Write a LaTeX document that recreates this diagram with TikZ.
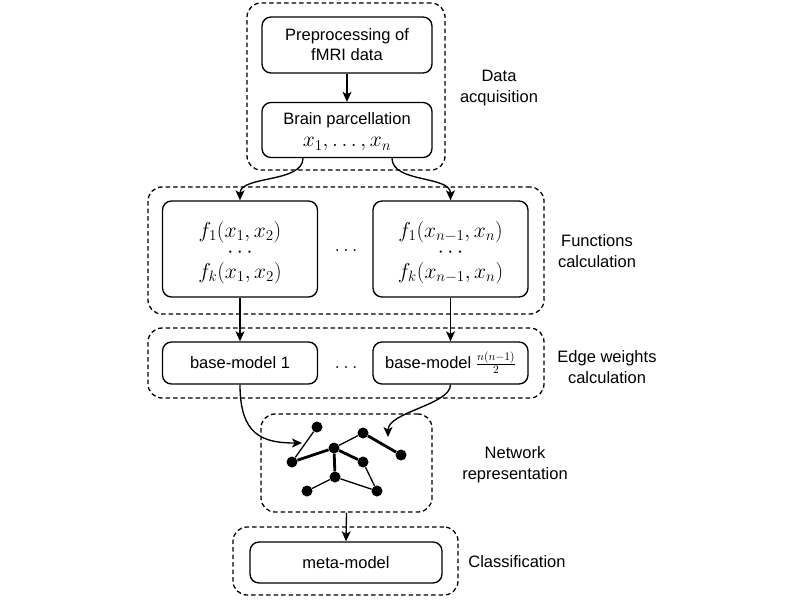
\RequirePackage{fix-cm}
\documentclass[tikz,border=0pt]{standalone}
\usepackage{fontspec}
\setmainfont{Liberation Sans}
\usetikzlibrary{arrows.meta}
\begin{document}
\begin{tikzpicture}[x=1pt,y=-1pt,
  txt/.style={font=\fontsize{16.5}{21}\selectfont},
  box/.style={draw, rounded corners=9pt, line width=1.35pt, inner sep=0pt, align=center, txt},
  grp/.style={draw, dash pattern=on 4.5pt off 3pt, rounded corners=14pt, line width=1.3pt, inner sep=0pt},
  lab/.style={align=center, txt},
  mathbig/.style={font=\fontsize{21.5}{20.5}\selectfont},
  arr/.style={line width=1.35pt, -{Stealth[length=10pt,width=9pt,inset=2.5pt]}},
  gdot/.style={circle, fill, inner sep=0pt, minimum size=11pt},
  gthin/.style={line width=1.3pt},
  gthick/.style={line width=2.8pt},
]
\useasboundingbox (0,0) rectangle (800,600);

% Data acquisition
\node[grp, minimum width=198pt, minimum height=167pt] (gda) at (346,86.5) {};
\node[box, minimum width=170pt, minimum height=56pt, font=\fontsize{16.5}{20}\selectfont] (pre) at (347,45) {Preprocessing of\\fMRI data};
\node[box, minimum width=170pt, minimum height=55pt, font=\fontsize{16.5}{22}\selectfont] (brain) at (347,130) {\rule{0pt}{16pt}Brain parcellation\\{\fontsize{21.5}{22}\selectfont $x_1,\dots,x_n$}};
\node[lab] (lda) at (499,88) {Data\\acquisition};

% Functions calculation
\node[grp, minimum width=396pt, minimum height=127pt] (gfn) at (346,250.5) {};
\node[box, minimum width=155pt, minimum height=96pt, mathbig] (fl) at (240,249) {\rule{0pt}{23pt}$f_1(x_1,x_2)$\\$\cdots$\\$f_k(x_1,x_2)$};
\node[box, minimum width=155pt, minimum height=96pt, mathbig] (fr) at (450.5,249) {\rule{0pt}{23pt}$f_1(x_{n-1},x_n)$\\$\cdots$\\$f_k(x_{n-1},x_n)$};
\node[font=\fontsize{20}{20}\selectfont] (d1) at (346,251) {$\dots$};
\node[lab] (lfn) at (597,251) {Functions\\calculation};

% Edge weights calculation
\node[grp, minimum width=396pt, minimum height=70pt] (gew) at (346,363) {};
\node[box, minimum width=155pt, minimum height=42pt] (b1) at (240,363) {base-model 1};
\node[box, minimum width=155pt, minimum height=42pt] (b2) at (450.5,363) {base-model $\frac{n(n-1)}{2}$};
\node[font=\fontsize{20}{20}\selectfont] (d2) at (346,368) {$\dots$};
\node[lab] (lew) at (607,367) {Edge weights\\calculation};

% Network representation
\node[grp, minimum width=171pt, minimum height=98pt] (gnet) at (346.5,463) {};
\node[lab] (lnet) at (515,465) {Network\\representation};
\node[gdot] (gA) at (317,427) {};
\node[gdot] (gB) at (363,433) {};
\node[gdot] (gC) at (334,448) {};
\node[gdot] (gD) at (292,462) {};
\node[gdot] (gE) at (363,462) {};
\node[gdot] (gF) at (401,455) {};
\node[gdot] (gG) at (335,477) {};
\node[gdot] (gH) at (307,491) {};
\node[gdot] (gI) at (377,491) {};
\draw[gthin] (gA) -- (gD);
\draw[gthick] (gD) -- (gC);
\draw[gthin] (gC) -- (gB);
\draw[gthick] (gB) -- (gF);
\draw[gthick] (gC) -- (gE);
\draw[gthick] (gC) -- (gG);
\draw[gthin] (gE) -- (gI);
\draw[gthin] (gG) -- (gH);
\draw[gthin] (gG) -- (gI);
\coordinate (inL) at (302,443);
\coordinate (inR) at (388,437);

% Classification
\node[grp, minimum width=225pt, minimum height=68pt] (gcl) at (345.5,561) {};
\node[box, minimum width=192pt, minimum height=41pt] (meta) at (346,562.5) {meta-model};
\node[lab] (lcl) at (517,562) {Classification};

% Connectors
\draw[arr] (pre.south) -- (brain.north);
\draw[arr] ([xshift=-44pt]brain.south) .. controls +(0,25) and +(0,-25) .. (fl.north);
\draw[arr] ([xshift=45pt]brain.south) .. controls +(0,25) and +(0,-25) .. (fr.north);
\draw[arr] (fl.south) -- (b1.north);
\draw[arr] (fr.south) -- (b2.north);
\draw[arr] (b1.south) .. controls +(0,50) and +(-40,0) .. (inL);
\draw[arr] (b2.south) .. controls +(0,20) and +(0,-25) .. (inR);
\draw[arr] (gnet.south) -- (meta.north);
\end{tikzpicture}
\end{document}
